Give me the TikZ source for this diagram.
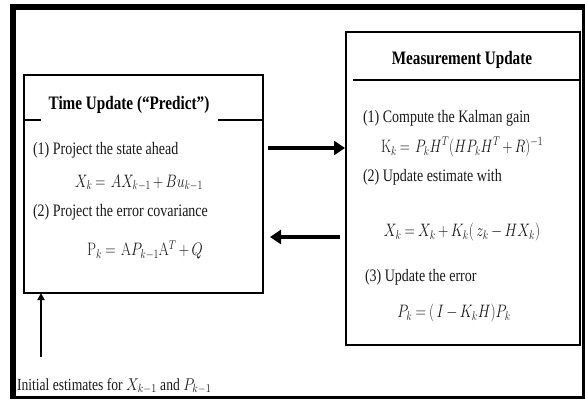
\documentclass[tikz,border=0pt]{standalone}
\usepackage{fix-cm}
\usepackage{graphicx}
\usepackage[no-math]{fontspec}
\setmainfont{Liberation Serif}[FakeStretch=0.8]
\usetikzlibrary{arrows.meta}
\newcommand{\sqeq}[2]{\scalebox{#1}[1]{$\medmuskip=3mu\thickmuskip=4mu #2$}}
\begin{document}
\begin{tikzpicture}[x=1pt,y=-1pt,
  every node/.style={inner sep=0pt, outer sep=0pt},
  txt/.style={font=\fontsize{17.5}{20}\selectfont, text=black!90},
  eq/.style={font=\fontsize{18}{21}\selectfont, text=black!90},
  ttl/.style={font=\fontsize{19}{22}\selectfont\bfseries, text=black},
  box/.style={draw=black, line width=2.6pt, rectangle, fill=white},
  sep/.style={draw=black, line width=1.6pt},
  fat/.style={line width=4.5pt, -{Triangle[length=11pt,width=14pt]}},
  slim/.style={line width=2.2pt, -{Triangle[length=7pt,width=7pt]}}]
\useasboundingbox (0,0) rectangle (585,399);
% outer frame
\fill[black] (10,4) rectangle (585,10);
\fill[black] (10,4) rectangle (16,399);
\fill[black] (10,396) rectangle (585,399);
\fill[black] (582,4) rectangle (585,399);
% boxes
\node[box, minimum width=239pt, minimum height=218pt] (tu) at (143.5,184) {};
\node[box, minimum width=234pt, minimum height=313pt] (mu) at (463,188.5) {};
% titles and separators
\node[ttl] (tut) at (129,105) {Time Update (“Predict”)};
\draw[sep] (tu.west |- 0,120) -- (41,120);
\draw[sep] (218,120) -- (tu.east |- 0,120);
\node[ttl] (mut) at (462,60) {Measurement Update};
\draw[sep] (353,80) -- (mu.east |- 0,80);
% left box text
\node[txt, anchor=west] (s1) at (33,150) {(1) Project the state ahead};
\node[eq] (e1) at (139,183) {\sqeq{0.78}{X_k = \,AX_{k-1} + Bu_{k-1}}};
\node[txt, anchor=west] (s2) at (33,212) {(2) Project the error covariance};
\node[eq] (e2) at (145,250) {\sqeq{0.8}{\mathrm{P}_k = \,\mathrm{A}P_{k-1}\mathrm{A}^T + Q}};
% right box text
\node[txt, anchor=west] (m1) at (363,118) {(1) Compute the Kalman gain};
\node[eq] (me1) at (462,147) {\sqeq{0.77}{\mathrm{K}_k = \,P_kH^T(HP_kH^T + R)^{-1}}};
\node[txt, anchor=west] (m2) at (363,177) {(2) Update estimate with};
\node[eq] (me2) at (462,232) {\sqeq{0.8}{X_k = X_k + K_k(\,z_k - HX_k)}};
\node[txt, anchor=west] (m3) at (365,277) {(3) Update the error};
\node[eq] (me3) at (454,313) {\sqeq{0.8}{P_k = (\,I - K_kH)P_k}};
% initial
\node[txt, font=\fontsize{17}{20}\selectfont, anchor=west] (init) at (17,386) {Initial estimates for \sqeq{0.85}{X_{k-1}} and \sqeq{0.85}{P_{k-1}}};
% arrows
\coordinate (a1) at (0,148);
\coordinate (a2) at (0,237);
\coordinate (ini) at (41,357);
\draw[fat] ([xshift=5pt]tu.east |- a1) -- ([xshift=-1pt]mu.west |- a1);
\draw[fat] ([xshift=-6pt]mu.west |- a2) -- ([xshift=7pt]tu.east |- a2);
\draw[slim] (ini) -- (tu.south -| ini);
\end{tikzpicture}
\end{document}
